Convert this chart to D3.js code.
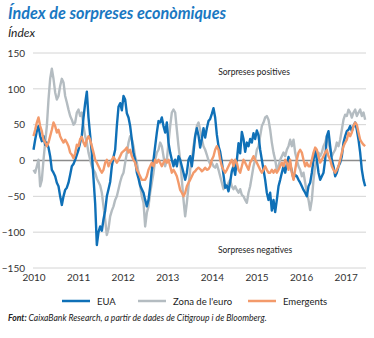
<!DOCTYPE html>
<html>
<head>
<meta charset="utf-8">
<script src="https://cdn.jsdelivr.net/npm/d3@7/dist/d3.min.js"></script>
<style>
  html, body { margin: 0; padding: 0; background: #ffffff; }
  svg { display: block; }
</style>
</head>
<body>
<svg id="chart" width="374" height="338"></svg>
<script>
// ---- Data ----
// Sampling: one value roughly every two weeks, starting Jan 2010.
const startYear = 2010;
const stepYears = 0.03737;

const euaValues = [
  15, 29, 41, 48, 34, 27, 34, 22, 25, 18,
  6, -13, -17, -22, -31, -36, -50, -62, -50, -41,
  -38, -31, -20, -8, -5, 1, 8, 15, 25, 35,
  60, 80, 96, 60, 35, 10, -25, -60, -118, -100,
  -92, -98, -82, -70, -50, -40, -30, -8, 5, 15,
  48, 75, 80, 70, 90, 85, 66, 60, 48, 29,
  10, 1, -17, -25, -35, -40, -45, -55, -64, -55,
  -36, -13, 1, 20, 39, 55, 53, 60, 48, 39,
  53, 25, 11, 1, -8, 1, -8, 6, 1, -8,
  -17, -27, -17, 1, 6, -8, 11, 34, 45, 35,
  18, 30, 45, 32, 45, 55, 58, 65, 73, 60,
  36, 20, 12, -2, -20, -38, -35, -43, -30, -15,
  -8, -20, 0, 24, 10, 40, 30, 12, 25, 20,
  30, 25, 38, 30, 42, 35, 15, 1, -13, -27,
  -45, -55, -45, -70, -55, -72, -55, -36, -27, -17,
  -8, -17, -5, 5, -5, -15, -25, -20, -22, -27,
  -31, -36, -41, -45, -50, -36, -31, -17, 1, 15,
  1, -17, -27, -22, -17, 1, 34, 41, 20, 1,
  -8, -22, -17, -8, -3, 6, 25, 34, 41, 43,
  48, 41, 48, 53, 43, 29, 11, -13, -27, -36
];

const euroValues = [
  -13, -17, -8, 1, -36, -27, 1, 25, 48, 85,
  114, 128, 114, 95, 85, 90, 104, 114, 109, 90,
  81, 71, 62, 57, 50, 53, 67, 71, 62, 67,
  48, 34, 25, 11, 1, -8, -13, -17, -25, -30,
  -35, -45, -64, -83, -104, -95, -78, -70, -64, -55,
  -50, -40, -30, -22, -17, -3, 10, 25, 34, 30,
  20, 5, -3, -17, -36, -50, -59, -92, -73, -64,
  -45, -31, -17, 1, 11, 15, 25, 20, 6, -8,
  1, 25, 48, 67, 71, 67, 43, 20, 1, -27,
  -55, -78, -59, -36, -13, 1, 20, 34, 48, 53,
  43, 30, 20, 15, 8, 0, -5, -3, -8, -10,
  -5, -13, -22, -31, -40, -34, -36, -31, -27, -36,
  -40, -36, -41, -45, -40, -48, -50, -55, -59, -45,
  -36, -22, -8, 1, 15, 20, 34, 48, 53, 60,
  62, 57, 43, 25, 11, 1, -13, -8, 1, 6,
  11, 6, 15, 20, 29, 20, 29, 11, 1, -8,
  -13, -22, -17, -31, -45, -55, -69, -55, -27, -8,
  1, 11, 6, 11, 20, 25, 34, 25, 15, 6,
  11, 15, 25, 20, 29, 43, 57, 64, 62, 71,
  67, 60, 67, 71, 62, 67, 71, 62, 67, 57
];

const emergValues = [
  34, 43, 53, 60, 48, 41, 29, 25, 20, 25,
  34, 43, 53, 48, 39, 43, 34, 29, 25, 29,
  25, 20, 11, 8, 3, 10, 22, 20, 30, 33,
  25, 20, 29, 34, 29, 20, 11, 1, -3, -8,
  -13, -17, -13, -3, 1, -8, -3, 1, 5, 1,
  -3, 1, 6, 11, 13, 15, 18, 11, 15, 6,
  1, -3, -13, -17, -22, -27, -27, -27, -22, -13,
  -8, -3, -8, 1, -3, 1, -3, -8, -3, 1,
  -3, 1, -8, -17, -13, -17, -22, -31, -41, -45,
  -50, -45, -36, -31, -27, -22, -17, -15, -12, -10,
  -12, -15, -13, -10, -13, -12, -8, 1, 6, 15,
  20, 15, 1, -8, -13, -17, -13, -8, -3, 1,
  -8, 1, -3, -13, -17, -8, 1, -3, -8, -13,
  -3, 1, 6, 1, -3, -8, -13, -17, -13, -8,
  -13, -17, -17, -13, -17, -13, -17, -13, -8, -3,
  -8, 1, -3, -13, 1, -17, -27, -13, 1, 11,
  15, 11, 1, -8, -3, -8, -8, 1, 11, 18,
  15, 6, -3, 1, 6, 11, 15, 6, 1, -8,
  -13, -17, -13, -8, 1, 11, 20, 25, 29, 39,
  34, 39, 48, 53, 50, 39, 29, 25, 22, 20
];

const yTicks = [150, 100, 50, 0, -50, -100, -150];
const xTicks = [2010, 2011, 2012, 2013, 2014, 2015, 2016, 2017];

const seriesNames = ["EUA", "Zona de l'euro", "Emergents"];
const seriesColors = ["#0f70b7", "#b4bcc1", "#f39a6b"];

// ---- Build ----
const svg = d3.select("#chart");
const W = 374, H = 338;
svg.append("rect").attr("width", W).attr("height", H).attr("fill", "#fff");

const x = d3.scaleLinear().domain([2010, 2017.5]).range([33.5, 33.5 + 7.5 * 44.6]);
const y = d3.scaleLinear().domain([-150, 150]).range([268, 53]);

const gridX0 = 33, gridX1 = 366;

// Title
svg.append("text")
  .attr("x", 8).attr("y", 19)
  .attr("font-family", "Lato, 'Open Sans', sans-serif")
  .attr("font-weight", "bold").attr("font-style", "italic")
  .attr("font-size", 16.2)
  .attr("fill", "#1a78c2")
  .text("Índex de sorpreses econòmiques");

svg.append("text")
  .attr("x", 8).attr("y", 37)
  .attr("font-family", "Lato, 'Open Sans', sans-serif")
  .attr("font-style", "italic")
  .attr("font-size", 12)
  .attr("fill", "#222")
  .text("Índex");

// Grid
const grid = svg.append("g");
grid.selectAll("line").data(yTicks).join("line")
  .attr("x1", gridX0).attr("x2", gridX1)
  .attr("y1", d => y(d)).attr("y2", d => y(d))
  .attr("stroke", d => d === 0 ? "#8c8c8c" : "#d4d4d4")
  .attr("stroke-width", d => d === 0 ? 1.4 : 1);

// Y axis labels
const yAxis = d3.axisLeft(y).tickValues(yTicks).tickSize(0).tickPadding(0);
const gy = svg.append("g").attr("transform", "translate(25,0)").call(yAxis);
gy.select(".domain").remove();
gy.selectAll("text")
  .attr("font-family", "Lato, 'Open Sans', sans-serif")
  .attr("font-size", 10)
  .attr("fill", "#333");

// X axis labels
const xAxis = d3.axisBottom(x).tickValues(xTicks).tickFormat(d3.format("d")).tickSize(0).tickPadding(0);
const gx = svg.append("g").attr("transform", "translate(0,274)").call(xAxis);
gx.select(".domain").remove();
gx.selectAll("text")
  .attr("font-family", "Lato, 'Open Sans', sans-serif")
  .attr("font-size", 10)
  .attr("fill", "#333");

// Annotations
svg.append("text")
  .attr("x", 254).attr("y", 75).attr("text-anchor", "middle")
  .attr("font-family", "Lato, 'Open Sans', sans-serif")
  .attr("font-size", 8.5).attr("fill", "#222")
  .text("Sorpreses positives");
svg.append("text")
  .attr("x", 255).attr("y", 253).attr("text-anchor", "middle")
  .attr("font-family", "Lato, 'Open Sans', sans-serif")
  .attr("font-size", 8.5).attr("fill", "#222")
  .text("Sorpreses negatives");

// Lines
const toPoints = vals => vals.map((v, i) => ({ t: startYear + i * stepYears, v }));
const series = [
  { name: seriesNames[1], color: seriesColors[1], pts: toPoints(euroValues) },
  { name: seriesNames[0], color: seriesColors[0], pts: toPoints(euaValues) },
  { name: seriesNames[2], color: seriesColors[2], pts: toPoints(emergValues) }
];
const line = d3.line().x(d => x(d.t)).y(d => y(d.v)).curve(d3.curveLinear);
svg.append("g").selectAll("path").data(series).join("path")
  .attr("d", d => line(d.pts))
  .attr("fill", "none")
  .attr("stroke", d => d.color)
  .attr("stroke-width", 2.4)
  .attr("stroke-linejoin", "round");

// Legend
const legendItems = [
  { name: seriesNames[0], color: seriesColors[0], x: 62 },
  { name: seriesNames[1], color: seriesColors[1], x: 138 },
  { name: seriesNames[2], color: seriesColors[2], x: 248 }
];
const lg = svg.append("g");
legendItems.forEach(it => {
  lg.append("line").attr("x1", it.x).attr("x2", it.x + 28)
    .attr("y1", 301).attr("y2", 301)
    .attr("stroke", it.color).attr("stroke-width", 2.5);
  lg.append("text").attr("x", it.x + 35).attr("y", 304.5)
    .attr("font-family", "Lato, 'Open Sans', sans-serif")
    .attr("font-size", 9.5).attr("fill", "#222")
    .text(it.name);
});

// Footnote
const fn = svg.append("text")
  .attr("x", 8).attr("y", 321)
  .attr("font-family", "Lato, 'Open Sans', sans-serif")
  .attr("font-style", "italic")
  .attr("font-size", 8.6).attr("fill", "#222");
fn.append("tspan").attr("font-weight", "bold").text("Font: ");
fn.append("tspan").text("CaixaBank Research, a partir de dades de Citigroup i de Bloomberg.");
</script>
</body>
</html>
